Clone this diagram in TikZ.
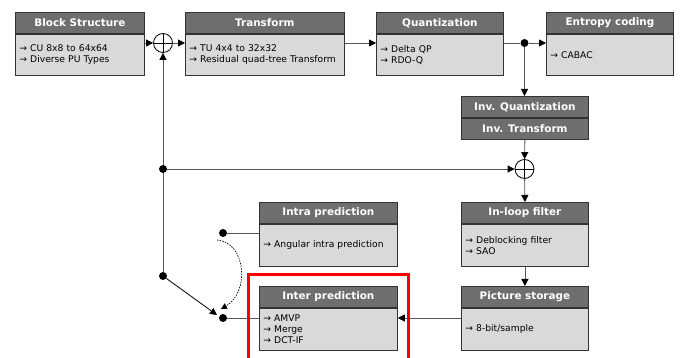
\documentclass[tikz,border=0pt]{standalone}
\usepackage{fontspec}
\setmainfont{DejaVu Sans}
\usetikzlibrary{arrows.meta}
\definecolor{hdrgray}{HTML}{6E6E6E}
\definecolor{bodygray}{HTML}{D9D9D9}
\definecolor{edgegray}{HTML}{333333}
\definecolor{linegray}{HTML}{555555}
\newcommand\hdrfont{\bfseries\fontsize{10.4}{12}\selectfont}
\newcommand\bodyfont{\fontsize{9.2}{11}\selectfont}
% name, x, ytop, width, textwidth, bodyh, title, body
\newcommand\mkbox[8]{%
  \node[hdr, minimum width=#4pt, anchor=north west] (#1h) at (#2,#3) {#7};
  \node[bdy, minimum width=#4pt, text width=#5pt, minimum height=#6pt, anchor=north west] (#1b) at (#1h.south west) {#8};
}
\tikzset{
  hdr/.style={draw=edgegray, fill=hdrgray, text=white, font=\hdrfont, minimum height=21pt, inner sep=0pt, line width=0.8pt},
  bdy/.style={draw=edgegray, fill=bodygray, font=\bodyfont, align=left, inner xsep=4pt, inner ysep=0pt, line width=0.8pt},
  sum/.style={circle, draw=black, line width=0.8pt, minimum size=19pt, inner sep=0pt,
    path picture={\draw[line width=0.8pt] (path picture bounding box.north) -- (path picture bounding box.south)
      (path picture bounding box.west) -- (path picture bounding box.east);}},
  dot/.style={circle, fill=black, minimum size=8pt, inner sep=0pt},
  conn/.style={draw=linegray, line width=0.8pt},
  arr/.style={conn, -{Triangle[length=7pt,width=7pt,color=black]}},
  lever/.style={draw=black, line width=0.8pt, -{Triangle[length=7pt,width=7pt,color=black]}},
  dotarr/.style={draw=black, line width=0.7pt, dash pattern=on 1.5pt off 1.2pt, -{Triangle[length=6pt,width=6pt,color=black]}}
}
\begin{document}
\begin{tikzpicture}[x=1pt,y=-1pt]
\useasboundingbox (0,0) rectangle (681,358);
\mkbox{bs}{15}{12}{129}{121}{41}{Block Structure}{→ CU 8x8 to 64x64\\→ Diverse PU Types}
\mkbox{tr}{185}{12}{159}{151}{41}{Transform}{→ TU 4x4 to 32x32\\→ Residual quad-tree Transform}
\mkbox{qu}{376}{12}{127}{119}{41}{Quantization}{→ Delta QP\\→ RDO-Q}
\mkbox{ec}{546}{12}{127}{119}{41}{Entropy coding}{→ CABAC}
\node[hdr, minimum width=127pt, anchor=north west] (iq) at (461,96) {Inv. Quantization};
\node[hdr, minimum width=127pt, anchor=north west] (it) at (iq.south west) {Inv. Transform};
\mkbox{lf}{461}{202}{127}{119}{42}{In-loop filter}{→ Deblocking filter\\→ SAO}
\mkbox{ps}{461}{286}{127}{119}{42}{Picture storage}{→ 8-bit/sample}
\mkbox{ra}{259}{202}{138}{130}{42}{Intra prediction}{→ Angular intra prediction}
\mkbox{er}{259}{286}{138}{130}{42}{Inter prediction}{→ AMVP\\→ Merge\\→ DCT-IF}

\node[sum] (c1) at (163,43) {};
\node[sum] (c2) at (524.5,169) {};
\node[dot] (d1) at (524.5,43) {};
\node[dot] (d2) at (163,169) {};
\node[dot] (d3) at (163,276) {};
\node[dot] (d4) at (223,233) {};
\node[dot] (d5) at (223,318) {};
\coordinate (swend) at (217,315);
\coordinate (dstart) at (217,240);
\coordinate (dend) at (221,309);

\draw[arr] (bsb.east |- c1) -- (c1);
\draw[arr] (c1) -- (c1 -| trb.west);
\draw[arr] (trb.east |- c1) -- (c1 -| qub.west);
\draw[conn] (qub.east |- d1) -- (d1);
\draw[arr] (d1) -- (d1 -| ecb.west);
\draw[arr] (d1) -- (d1 |- iq.north);
\draw[arr] (it.south) -- (c2);
\draw[arr] (c2) -- (lfh.north);
\draw[arr] (lfb.south) -- (psh.north);
\draw[arr] (psb.west |- d5) -- (d5 -| erb.east);
\draw[arr] (d2) -- (c2);
\draw[arr] (d2) -- (c1);
\draw[conn] (d2) -- (d3);
\draw[lever] (d3) -- (swend);
\draw[conn] (d4) -- (d4 -| rab.west);
\draw[conn] (d5) -- (d5 -| erb.west);
\draw[dotarr] (dstart) .. controls (246,242) and (250,292) .. (dend);

\draw[red, line width=3pt] (248,362) -- (248,275) -- (408,275) -- (408,362);
\end{tikzpicture}
\end{document}
